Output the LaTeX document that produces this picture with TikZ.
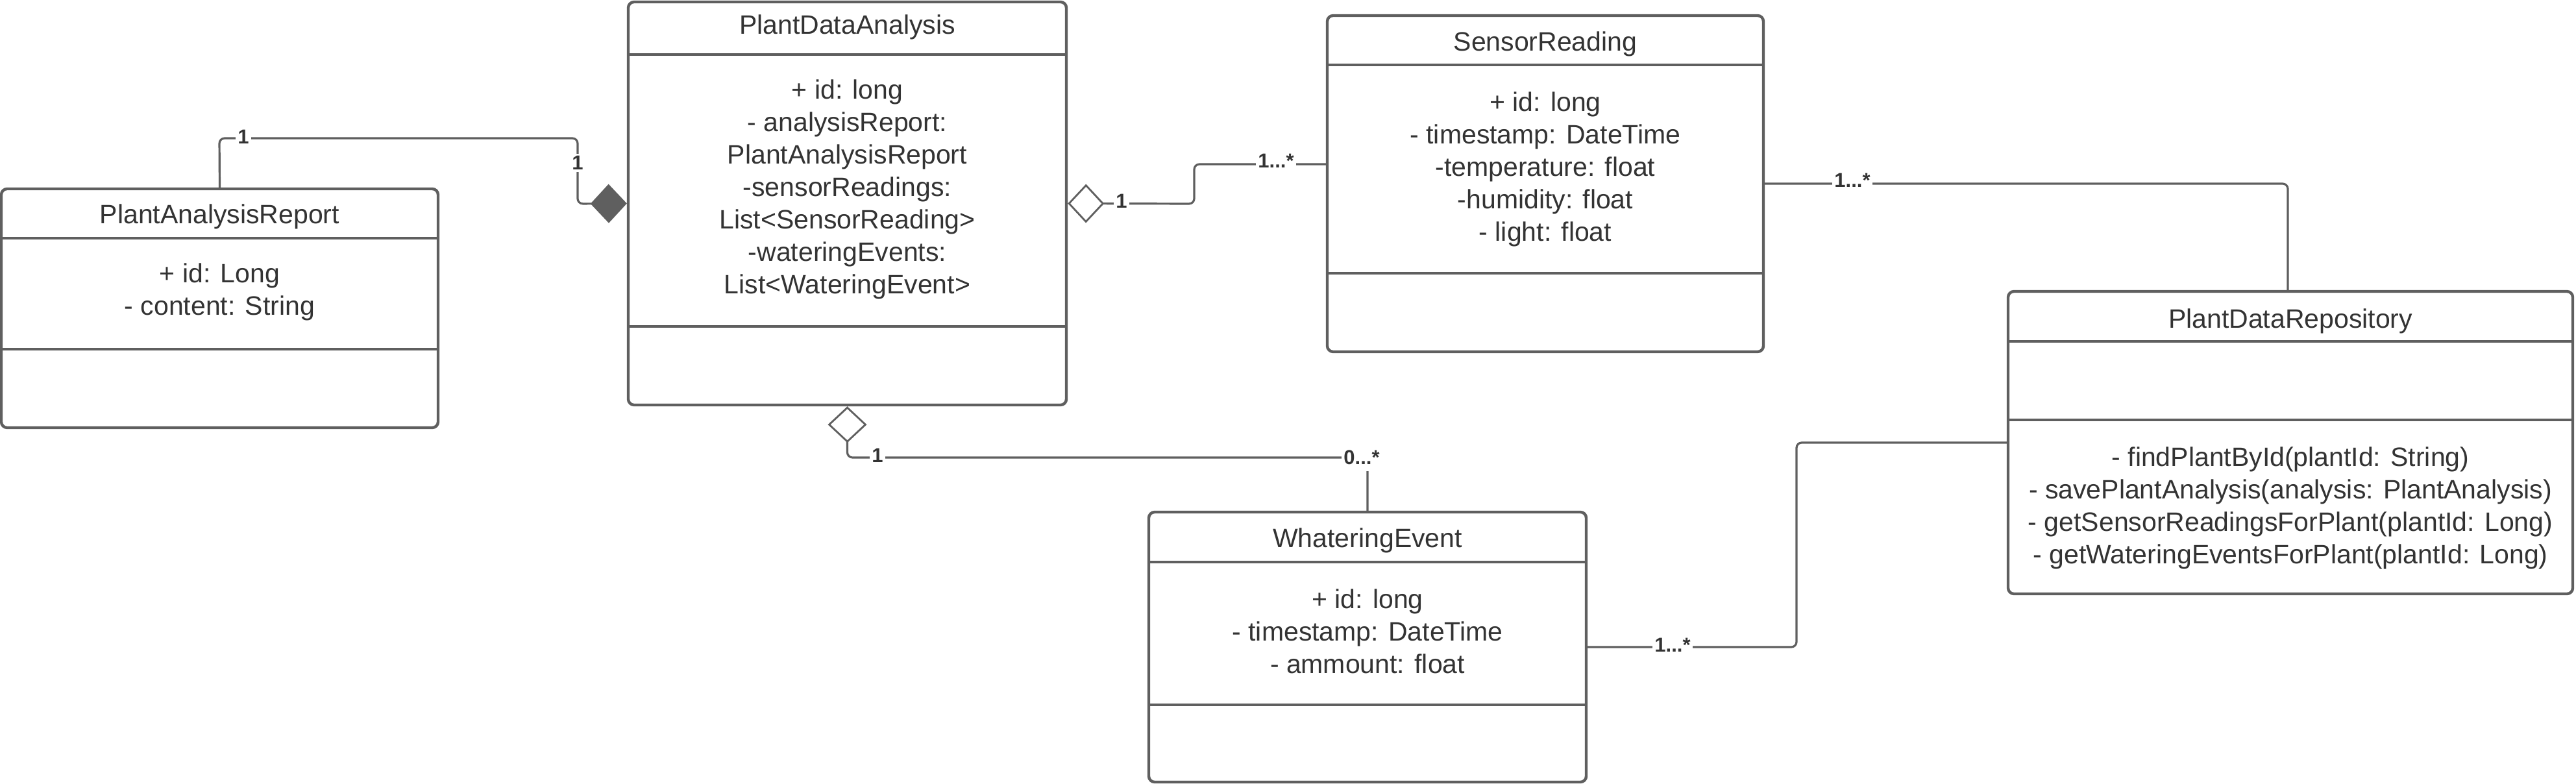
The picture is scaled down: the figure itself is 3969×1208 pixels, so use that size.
\documentclass[tikz,border=0pt]{standalone}
\usepackage{fontspec}
\setmainfont{Liberation Sans}
\usetikzlibrary{arrows.meta}
\definecolor{umlline}{HTML}{5F5F5F}
\definecolor{umltext}{HTML}{333333}
\begin{document}
\begin{tikzpicture}[x=0.5pt,y=-0.5pt,
  classbox/.style={rectangle, draw=umlline, line width=2.2pt, rounded corners=4.5pt, fill=white, inner sep=0pt},
  divider/.style={draw=umlline, line width=2.4pt},
  titletext/.style={font=\fontsize{20.5}{25}\selectfont, text=umltext, inner sep=0pt, align=center},
  bodytext/.style={font=\fontsize{20.5}{25}\selectfont, text=umltext, inner sep=0pt, align=center},
  conn/.style={draw=umlline, line width=1.6pt, rounded corners=4pt},
  mult/.style={font=\fontsize{15.5}{18}\selectfont\bfseries, text=umltext, fill=white, inner sep=1.5pt},
  comp/.style={-{Diamond[length=28pt,width=30pt,fill=umlline,line width=1.4pt]}},
  aggr/.style={-{Diamond[length=28pt,width=30pt,fill=white,line width=1.4pt]}},
]
\useasboundingbox (0,0) rectangle (3969,1208);

% class boxes
\node[classbox, minimum width=336.5pt, minimum height=184pt] (par) at (338.5,475) {};
\node[classbox, minimum width=337.5pt, minimum height=310.5pt] (pda) at (1305.5,313.5) {};
\node[classbox, minimum width=336pt, minimum height=259pt] (sr) at (2381,283) {};
\node[classbox, minimum width=435pt, minimum height=233pt] (pdr) at (3529,682) {};
\node[classbox, minimum width=337pt, minimum height=208pt] (we) at (2107,997) {};

% dividers
\draw[divider] (2,367) -- (675,367);
\draw[divider] (2,538) -- (675,538);
\draw[divider] (968,84) -- (1643,84);
\draw[divider] (968,503) -- (1643,503);
\draw[divider] (2045,100) -- (2717,100);
\draw[divider] (2045,421) -- (2717,421);
\draw[divider] (3094,526) -- (3964,526);
\draw[divider] (3094,647) -- (3964,647);
\draw[divider] (1770,866) -- (2444,866);
\draw[divider] (1770,1086) -- (2444,1086);

% texts
\node[titletext] (part) at (338.5,334) {PlantAnalysisReport};
\node[bodytext] (para) at (338.5,450) {+ id: Long\\- content: String};

\node[titletext] (pdat) at (1305.5,42) {PlantDataAnalysis};
\node[bodytext] (pdaa) at (1305.5,292) {+ id: long\\- analysisReport:\\PlantAnalysisReport\\-sensorReadings:\\List<SensorReading>\\-wateringEvents:\\List<WateringEvent>};

\node[titletext] (srt) at (2381,68) {SensorReading};
\node[bodytext] (sra) at (2381,261) {+ id: long\\- timestamp: DateTime\\-temperature: float\\-humidity: float\\- light: float};

\node[titletext] (pdrt) at (3529,495) {PlantDataRepository};
\node[bodytext] (pdrm) at (3529,783) {- findPlantById(plantId: String)\\- savePlantAnalysis(analysis: PlantAnalysis)\\- getSensorReadingsForPlant(plantId: Long)\\- getWateringEventsForPlant(plantId: Long)};

\node[titletext] (wet) at (2107,833) {WhateringEvent};
\node[bodytext] (wea) at (2107,972.5) {+ id: long\\- timestamp: DateTime\\- ammount: float};

% connectors
\draw[conn, comp] (par.north) -- (338,213) -- (890,213) -- (890,314) -- (pda.west);
\draw[conn, aggr] ([yshift=15pt]sr.west) -- (1840,253) -- (1840,314) -- (pda.east);
\draw[conn, aggr] (we.north) -- (2107,705) -- (1305.5,705) -- (pda.south);
\draw[conn] (sr.east) -- (3525,283) -- ([xshift=-2pt]pdr.north);
\draw[conn] (we.east) -- (2768,997) -- (2768,682) -- (pdr.west);

% multiplicities
\node[mult] (m1) at (375,211) {1};
\node[mult] (m2) at (890,251) {1};
\node[mult] (m3) at (1728,310) {1};
\node[mult] (m4) at (1966,248) {1...*};
\node[mult] (m5) at (1352,702) {1};
\node[mult, inner ysep=5pt] (m6) at (2098,705) {0...*};
\node[mult] (m7) at (2854,278) {1...*};
\node[mult] (m8) at (2577,994) {1...*};
\end{tikzpicture}
\end{document}
